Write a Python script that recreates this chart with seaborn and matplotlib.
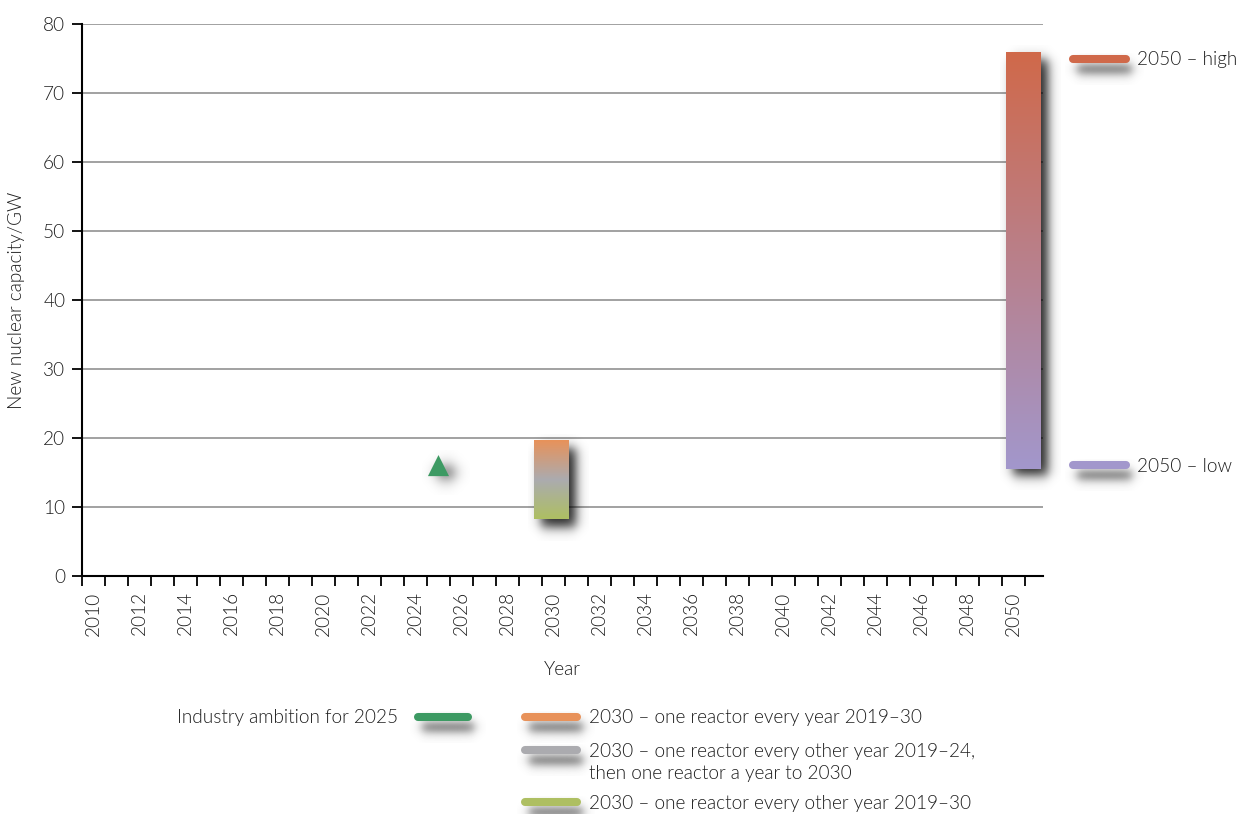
"""New nuclear capacity scenarios chart."""

import matplotlib.pyplot as plt
import numpy as np
import seaborn as sns
from matplotlib.colors import LinearSegmentedColormap

# Data
years = list(range(2010, 2052))
label_years = list(range(2010, 2051, 2))

ambition_year = [2025]
ambition_gw = [16.0]

range_years = [2030, 2050]
range_low = [8.2, 15.5]
range_high = [19.6, 75.9]

legend_bottom = [
    ["2030 – one reactor every year 2019–30"],
    ["2030 – one reactor every other year 2019–24,", "then one reactor a year to 2030"],
    ["2030 – one reactor every other year 2019–30"],
]
legend_right = ["2050 – high", "2050 – low"]

# Colours
GREEN = "#3D9A63"
ORANGE = "#E8925A"
GREY = "#ABABAF"
OLIVE = "#AEBF62"
RED = "#D0694A"
LAVENDER = "#A297CC"
TEXT = "#1e1e1e"
FS = 13.7

sns.set_theme(style="white")
plt.rcParams["font.family"] = ["Lato", "DejaVu Sans"]
plt.rcParams["font.weight"] = 300
plt.rcParams["axes.labelweight"] = 300


def sig(v):
    return 1.0 / (1.0 + np.exp(-v))


def soft_shadow(ax, x0, x1, y0, y1, sx, sy, alpha=0.85, zorder=1, color=(0, 0, 0)):
    """Blurred rectangle used as a drop shadow."""
    xs = np.linspace(x0 - 4 * sx, x1 + 4 * sx, 240)
    ys = np.linspace(min(y0, y1) - 4 * abs(sy), max(y0, y1) + 4 * abs(sy), 240)
    lo, hi = min(y0, y1), max(y0, y1)
    fx = sig((xs - x0) / sx) * sig((x1 - xs) / sx)
    fy = sig((ys - lo) / abs(sy)) * sig((hi - ys) / abs(sy))
    img = np.zeros((len(ys), len(xs), 4))
    img[..., 0], img[..., 1], img[..., 2] = color
    img[..., 3] = np.outer(fy, fx) * alpha
    im = ax.imshow(img, extent=(xs[0], xs[-1], ys[0], ys[-1]), origin="lower",
                   aspect="auto", zorder=zorder, interpolation="bilinear")
    im.set_clip_on(False)


fig = plt.figure(figsize=(12.4, 8.14), dpi=100)
ax = fig.add_axes([0.0661, 0.2924, 0.7750, 0.6781])

# Range bars with gradients (bottom colour -> top colour)
bar_cmaps = [
    LinearSegmentedColormap.from_list("r2030", [OLIVE, GREY, ORANGE]),
    LinearSegmentedColormap.from_list("r2050", [LAVENDER, RED]),
]
bar_offsets = [0.41, 0.93]
bar_width = 1.52
grad = np.linspace(0, 1, 256).reshape(-1, 1)
for yr, lo, hi, cmap, off in zip(range_years, range_low, range_high, bar_cmaps, bar_offsets):
    x0 = yr + off - bar_width / 2
    x1 = yr + off + bar_width / 2
    soft_shadow(ax, x0 + 0.32, x1 + 0.32, lo - 1.1, hi - 1.1, 0.14, 0.5, zorder=2)
    bar = ax.imshow(grad, extent=(x0, x1, lo, hi), origin="lower", aspect="auto",
                    cmap=cmap, zorder=3)
    bar.set_clip_on(False)

# Industry ambition marker
amb_x = [y + 0.5 for y in ambition_year]
for x, y in zip(amb_x, ambition_gw):
    soft_shadow(ax, x - 0.05, x + 0.65, y - 1.8, y - 0.2, 0.17, 0.6, alpha=0.75, zorder=2)
sns.scatterplot(x=amb_x, y=ambition_gw, marker="^", s=230, color=GREEN,
                edgecolor="none", zorder=4, ax=ax, legend=False)

# Axes styling
ax.set_xlim(2010, 2051.78)
ax.set_ylim(0, 80)
ax.set_yticks(range(0, 81, 10))
ax.set_xticks(years)
ax.set_xticklabels([])
ax.set_xticks([y + 0.5 for y in label_years], minor=True)
ax.set_xticklabels([str(y) for y in label_years], minor=True, rotation=90)
ax.tick_params(axis="x", which="major", direction="out", length=7, width=1.3,
               color="black", bottom=True)
ax.tick_params(axis="x", which="minor", length=0, pad=11, labelsize=FS,
               labelcolor=TEXT, bottom=True)
ax.tick_params(axis="y", direction="out", length=7, width=1.3, color="black",
               left=True, labelsize=FS, labelcolor=TEXT, pad=5)
ax.yaxis.grid(True, color="#9a9a9a", linewidth=1.3)
ax.xaxis.grid(False)
ax.set_axisbelow(True)
sns.despine(ax=ax, top=True, right=True)
for side in ("left", "bottom"):
    ax.spines[side].set_color("black")
    ax.spines[side].set_linewidth(1.5)
ax.spines["bottom"].set_zorder(5)
ax.set_xlabel("Year", fontsize=FS, color=TEXT, labelpad=18)
ax.set_ylabel("New nuclear capacity/GW", fontsize=FS, color=TEXT, labelpad=13)

# Legends drawn in pixel coordinates on an overlay
ov = fig.add_axes([0, 0, 1, 1], zorder=10)


def legend_line(x0, x1, y, color):
    soft_shadow(ov, x0 + 4, x1 + 6, y + 6, y + 14, 3, 3, alpha=0.8, zorder=1,
                color=(0.2, 0.2, 0.2))
    ov.plot([x0, x1], [y, y], color=color, lw=5.8, solid_capstyle="round", zorder=2)


legend_line(418, 468, 717, GREEN)
ov.text(398, 718, "Industry ambition for 2025", ha="right", va="center",
        fontsize=FS, color=TEXT)

bottom_y = [717, 750, 802]
for lines, color, y in zip(legend_bottom, [ORANGE, GREY, OLIVE], bottom_y):
    legend_line(525, 577, y, color)
    for i, line in enumerate(lines):
        ov.text(589, y + 1 + 23 * i, line, ha="left", va="center", fontsize=FS,
                color=TEXT)

right_y = [59, 465]
for label, color, y in zip(legend_right, [RED, LAVENDER], right_y):
    legend_line(1073, 1126, y, color)
    ov.text(1137, y + 1, label, ha="left", va="center", fontsize=FS, color=TEXT)

ov.set_xlim(0, 1240)
ov.set_ylim(814, 0)
ov.axis("off")

fig.savefig("out.png", dpi=100)
